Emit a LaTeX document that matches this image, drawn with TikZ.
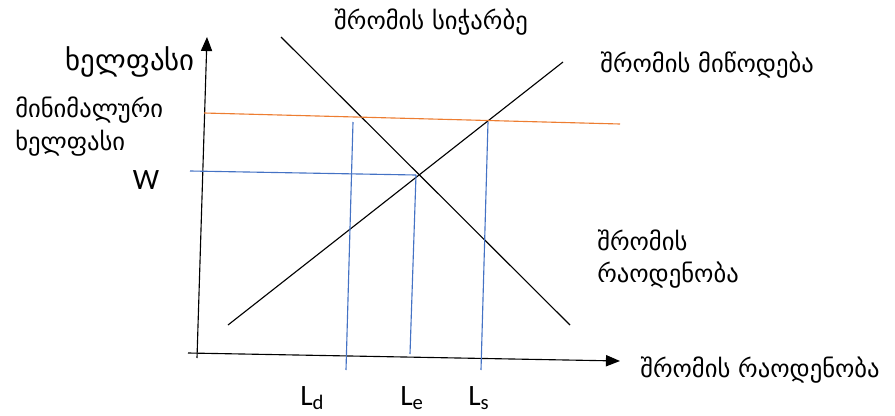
\documentclass[tikz,border=0pt]{standalone}
\usepackage{fontspec}
\newfontfamily\geofont{DejaVu Sans}
\newfontfamily\latfont{Carlito}
\usetikzlibrary{arrows.meta,positioning}

\definecolor{wageblue}{RGB}{68,114,196}
\definecolor{minorange}{RGB}{237,125,49}

\tikzset{
	axis/.style={draw=black, line width=0.8pt, -{Triangle[length=10pt,width=8pt]}},
	curve/.style={draw=black, line width=0.8pt},
	guide/.style={draw=wageblue, line width=0.8pt},
	minline/.style={draw=minorange, line width=0.8pt},
	geo/.style={inner sep=0pt, font=\geofont\fontsize{17.5}{20}\selectfont},
	geobig/.style={inner sep=0pt, font=\geofont\fontsize{20.5}{24}\selectfont},
	lat/.style={inner sep=0pt, font=\latfont\fontsize{21}{24}\selectfont}
}

\begin{document}
\begin{tikzpicture}[x=0.025cm, y=-0.025cm]
	\useasboundingbox (0,0) rectangle (895,415);

	% axes
	\coordinate (O) at (197,358);
	\coordinate (Ytop) at (207,37);
	\coordinate (Xleft) at (188,353);
	\coordinate (Xright) at (620,361);
	\draw[axis] (O) -- (Ytop);
	\draw[axis] (Xleft) -- (Xright);

	% demand and supply
	\coordinate (D1) at (281,37);
	\coordinate (D2) at (570,325);
	\coordinate (S1) at (228,325);
	\coordinate (S2) at (563,62);
	\draw[curve] (D1) -- (D2);
	\draw[curve] (S1) -- (S2);

	% minimum wage and equilibrium
	\coordinate (M1) at (204,113);
	\coordinate (M2) at (620,124);
	\draw[minline] (M1) -- (M2);
	\coordinate (W1) at (190,171);
	\coordinate (E) at (416,175);
	\draw[guide] (W1) -- (E);

	\coordinate (Ldtop) at (353,122);
	\coordinate (Ldbot) at (346,370);
	\coordinate (Lebot) at (410,354);
	\coordinate (Lstop) at (488,122);
	\coordinate (Lsbot) at (481,370);
	\draw[guide] (Ldtop) -- (Ldbot);
	\draw[guide] (E) -- (Lebot);
	\draw[guide] (Lstop) -- (Lsbot);

	% labels
	\node[geobig, anchor=east] (wage) at (195,62) {ხელფასი};
	\node[geo, anchor=west] (minw1) at (15,110) {მინიმალური};
	\node[geo, anchor=west] (minw2) at (15,143) {ხელფასი};
	\node[lat] (wlab) at (146,180) {W};
	\node[geo] (surplus) at (431,22) {შრომის სიჭარბე};
	\node[geo, anchor=west] (supply) at (600,65) {შრომის მიწოდება};
	\node[geo, anchor=west] (qty1) at (597,240) {შრომის};
	\node[geo, anchor=west] (qty2) at (597,275) {რაოდენობა};
	\node[geo, anchor=west] (xlab) at (640,370) {შრომის რაოდენობა};
	\node[lat, anchor=base west] (ld) at (300,405) {L\textsubscript{d}};
	\node[lat, anchor=base west] (le) at (400,405) {L\textsubscript{e}};
	\node[lat, anchor=base west] (ls) at (468,405) {L\textsubscript{s}};
\end{tikzpicture}
\end{document}
